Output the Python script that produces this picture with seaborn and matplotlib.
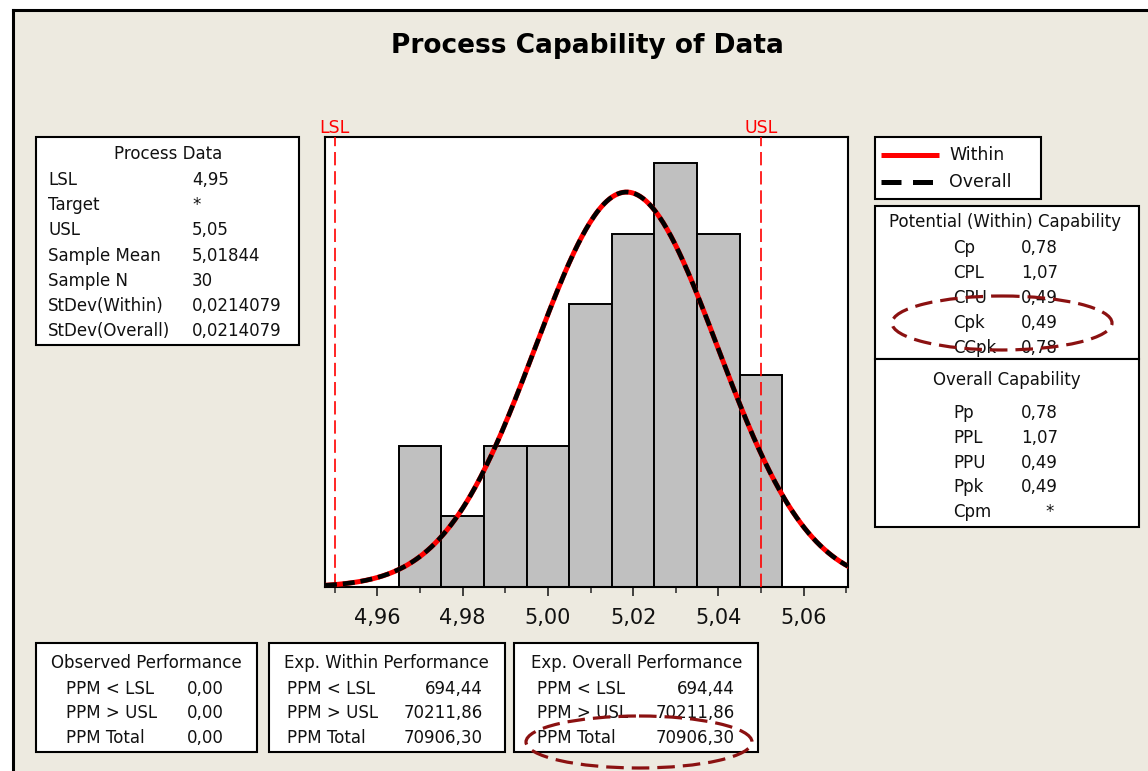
import numpy as np
import pandas as pd
import matplotlib
matplotlib.use("Agg")
import matplotlib.pyplot as plt
from matplotlib.patches import Rectangle, Ellipse
from matplotlib.ticker import MultipleLocator
import seaborn as sns

# ---- process data -------------------------------------------------------
lsl = 4.95
usl = 5.05
sample_mean = 5.01844
sample_n = 30
stdev_within = 0.0214079
stdev_overall = 0.0214079

# histogram of the 30 measurements (bin centres and counts)
bin_centers = [4.97, 4.98, 4.99, 5.00, 5.01, 5.02, 5.03, 5.04, 5.05]
bin_counts = [2, 1, 2, 2, 4, 5, 6, 5, 3]
bin_width = 0.01

tick_values = [4.96, 4.98, 5.00, 5.02, 5.04, 5.06]

process_rows = [
    ("LSL", "4,95"),
    ("Target", "*"),
    ("USL", "5,05"),
    ("Sample Mean", "5,01844"),
    ("Sample N", "30"),
    ("StDev(Within)", "0,0214079"),
    ("StDev(Overall)", "0,0214079"),
]
within_cap = [("Cp", "0,78"), ("CPL", "1,07"), ("CPU", "0,49"),
              ("Cpk", "0,49"), ("CCpk", "0,78")]
overall_cap = [("Pp", "0,78"), ("PPL", "1,07"), ("PPU", "0,49"),
               ("Ppk", "0,49"), ("Cpm", "*")]
observed_perf = [("PPM < LSL", "0,00"), ("PPM > USL", "0,00"), ("PPM Total", "0,00")]
within_perf = [("PPM < LSL", "694,44"), ("PPM > USL", "70211,86"), ("PPM Total", "70906,30")]
overall_perf = [("PPM < LSL", "694,44"), ("PPM > USL", "70211,86"), ("PPM Total", "70906,30")]

# ---- styling ------------------------------------------------------------
sns.set_style("white")
plt.rcParams["font.family"] = ["DejaVu Sans"]
BG = "#EDEAE0"
TXT = 12
W, H = 1148, 771

fig = plt.figure(figsize=(W / 100, H / 100), dpi=100, facecolor="white")

# full-figure overlay in pixel units (y downwards) for panels and frame
ov = fig.add_axes([0, 0, 1, 1], zorder=0)
ov.set_xlim(0, W)
ov.set_ylim(H, 0)
ov.axis("off")
ov.add_patch(Rectangle((13, 10), W, H, facecolor=BG, edgecolor="none", zorder=0))
ov.plot([13, 13], [10, H + 5], color="black", lw=2.2, solid_capstyle="projecting", zorder=1)
ov.plot([13, W + 5], [10, 10], color="black", lw=2.2, solid_capstyle="projecting", zorder=1)

ov.text(587, 46, "Process Capability of Data", ha="center", va="center",
        fontsize=19, fontweight="bold", color="black")


def panel(x0, y0, x1, y1):
    ov.add_patch(Rectangle((x0, y0), x1 - x0, y1 - y0, facecolor="white",
                           edgecolor="black", lw=1.5, zorder=2))


def txt(x, y, s, ha="left", size=TXT, color="#111111"):
    ov.text(x, y, s, ha=ha, va="center", fontsize=size, color=color, zorder=4)


# Process Data panel
panel(36, 137, 299, 345)
txt(168, 154, "Process Data", ha="center")
for i, (lab, val) in enumerate(process_rows):
    y = 180 + i * 25.2
    txt(48, y, lab)
    txt(192, y, val)

# legend panel
panel(875, 137, 1041, 199)
ov.plot([881, 939], [155, 155], color="red", lw=3.6, solid_capstyle="butt", zorder=4)
ov.plot([881, 939], [182, 182], color="black", lw=3.6,
        linestyle=(0, (4.0, 2.3)), dash_capstyle="butt", zorder=4)
txt(949, 155, "Within", size=12.5)
txt(949, 182, "Overall", size=12.5)

# potential (within) capability panel
panel(875, 206, 1139, 359)
txt(1005, 222, "Potential (Within) Capability", ha="center")
for i, (lab, val) in enumerate(within_cap):
    y = 248 + i * 25
    txt(953, y, lab)
    txt(1021, y, val)

# overall capability panel
panel(875, 359, 1139, 527)
txt(1007, 380, "Overall Capability", ha="center")
for i, (lab, val) in enumerate(overall_cap):
    y = 413 + i * 24.8
    txt(953, y, lab)
    if val == "*":
        txt(1050, y, val, ha="center")
    else:
        txt(1021, y, val)

# performance panels along the bottom
panel(36, 643, 257, 752)
txt(146, 663, "Observed Performance", ha="center")
for i, (lab, val) in enumerate(observed_perf):
    y = 689 + i * 24.5
    txt(66, y, lab)
    txt(187, y, val)

panel(269, 643, 505, 752)
txt(386, 663, "Exp. Within Performance", ha="center")
for i, (lab, val) in enumerate(within_perf):
    y = 689 + i * 24.5
    txt(287, y, lab)
    txt(483, y, val, ha="right")

panel(514, 643, 758, 752)
txt(637, 663, "Exp. Overall Performance", ha="center")
for i, (lab, val) in enumerate(overall_perf):
    y = 689 + i * 24.5
    txt(537, y, lab)
    txt(735, y, val, ha="right")

# hand-drawn style highlight rings
ring = "#8B1111"
for (cx, cy, ew, eh) in [(1002, 323, 220, 54), (639, 742, 226, 52)]:
    ov.add_patch(Ellipse((cx, cy), ew, eh, fill=False, edgecolor=ring, lw=2.3,
                         linestyle=(0, (5.5, 2.5)), zorder=6))

# ---- capability histogram ----------------------------------------------
ax = fig.add_axes([325 / W, 1 - 587 / H, (848 - 325) / W, (587 - 137) / H], zorder=1)
ax.set_facecolor("white")

hist_df = pd.DataFrame({"value": bin_centers, "count": bin_counts})
edges = [round(c - bin_width / 2, 4) for c in bin_centers] + [round(bin_centers[-1] + bin_width / 2, 4)]
sns.histplot(data=hist_df, x="value", weights="count", bins=edges, stat="count",
             color="#C0C0C0", edgecolor="black", linewidth=1.4, alpha=1.0, ax=ax)

xlim = (4.9477, 5.0704)
xs = np.linspace(xlim[0], xlim[1], 400)
scale = sample_n * bin_width


def normal_curve(mu, sd):
    return scale * np.exp(-0.5 * ((xs - mu) / sd) ** 2) / (sd * np.sqrt(2 * np.pi))


sns.lineplot(x=xs, y=normal_curve(sample_mean, stdev_within), color="red", lw=3.6,
             ax=ax, sort=False, zorder=5)
sns.lineplot(x=xs, y=normal_curve(sample_mean, stdev_overall), color="black", lw=3.3,
             linestyle=(0, (2.6, 1.3)), dash_capstyle="butt", ax=ax, sort=False, zorder=6)

for lim, name in [(lsl, "LSL"), (usl, "USL")]:
    ax.axvline(lim, color="red", lw=1.2, linestyle=(0, (8, 3.5)), zorder=4)
    ax.text(lim, 1.0, name, transform=ax.get_xaxis_transform(), ha="center",
            va="bottom", color="red", fontsize=12.5)

ax.set_xlim(*xlim)
ax.set_ylim(0, 6.37)
ax.set_xticks(tick_values)
ax.set_xticklabels([f"{v:.2f}".replace(".", ",") for v in tick_values])
ax.xaxis.set_minor_locator(MultipleLocator(0.01))
ax.set_yticks([])
ax.set_xlabel("")
ax.set_ylabel("")
ax.tick_params(axis="x", which="major", direction="out", length=6.5, width=1.1,
               pad=8.5, labelsize=15, colors="#111111", bottom=True)
ax.tick_params(axis="x", which="minor", direction="out", length=4.3, width=1.1,
               bottom=True)
for sp in ax.spines.values():
    sp.set_visible(True)
    sp.set_color("black")
    sp.set_linewidth(1.5)

fig.savefig("out.png", dpi=100, facecolor=fig.get_facecolor())
